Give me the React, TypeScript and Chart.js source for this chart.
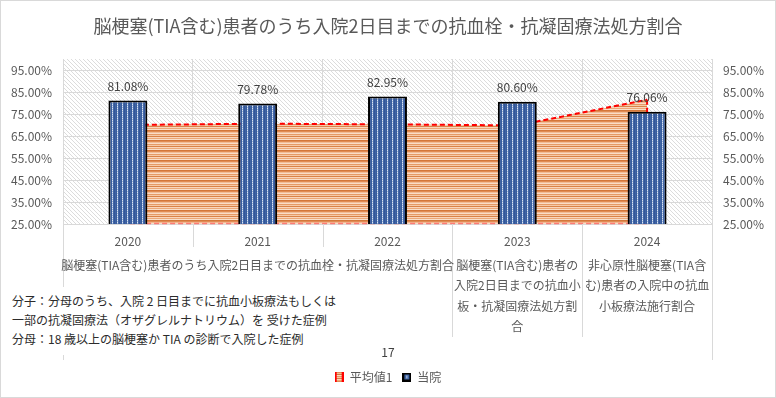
import React, { useEffect, useRef } from 'react';
import { Chart, registerables } from 'chart.js';

Chart.register(...registerables);

const FONT = '"Noto Sans CJK JP", "Noto Sans", sans-serif';

const categories = ['2020', '2021', '2022', '2023', '2024'];
const hospitalValues = [81.08, 79.78, 82.95, 80.6, 76.06];
const averageValues = [70.0, 70.6, 70.3, 69.8, 81.5];
const yTickValues = [25, 35, 45, 55, 65, 75, 85, 95];
const yMin = 25;
const yMax = 100;
const seriesNames = ['平均値1', '当院'];
const titleText = '脳梗塞(TIA含む)患者のうち入院2日目までの抗血栓・抗凝固療法処方割合';
const groupLabels = [
  ['脳梗塞(TIA含む)患者のうち入院2日目までの抗血栓・抗凝固療法処方割合'],
  ['脳梗塞(TIA含む)患者の', '入院2日目までの抗血小', '板・抗凝固療法処方割', '合'],
  ['非心原性脳梗塞(TIA含', 'む)患者の入院中の抗血', '小板療法施行割合'],
];
const groupSpans = [3, 1, 1];
const noteLines = [
  '分子：分母のうち、入院 2 日目までに抗血小板療法もしくは',
  '一部の抗凝固療法（オザグレルナトリウム）を 受けた症例',
  '分母：18 歳以上の脳梗塞か TIA の診断で入院した症例',
];
const pageNumber = '17';

function makeCanvas(w: number, h: number) {
  const c = document.createElement('canvas');
  c.width = w;
  c.height = h;
  return c;
}

function hatchPattern(ctx: CanvasRenderingContext2D) {
  const c = makeCanvas(4, 4);
  const g = c.getContext('2d')!;
  g.fillStyle = '#ffffff';
  g.fillRect(0, 0, 4, 4);
  g.fillStyle = '#dcdcdc';
  for (let i = 0; i < 4; i++) g.fillRect(i, i, 1, 1);
  return ctx.createPattern(c, 'repeat')!;
}

function stripePattern(ctx: CanvasRenderingContext2D) {
  const rows = ['#d4773a', '#e08c55', '#f2bc96', '#fadcc6', '#e59a66', '#f5caa9', '#da8248', '#f8d6bd', '#eca878', '#f9e0cc'];
  const c = makeCanvas(4, rows.length);
  const g = c.getContext('2d')!;
  rows.forEach((col, i) => {
    g.fillStyle = col;
    g.fillRect(0, i, 4, 1);
  });
  return ctx.createPattern(c, 'repeat')!;
}

function barPattern(ctx: CanvasRenderingContext2D) {
  const c = makeCanvas(5, 2);
  const g = c.getContext('2d')!;
  const cols = ['#3f64a3', '#395d9e', null, '#4569a8', '#33569a'];
  cols.forEach((col, i) => {
    if (col) {
      g.fillStyle = col;
      g.fillRect(i, 0, 1, 2);
    } else {
      g.fillStyle = '#dce5f3';
      g.fillRect(i, 0, 1, 1);
      g.fillStyle = '#93acd4';
      g.fillRect(i, 1, 1, 1);
    }
  });
  return ctx.createPattern(c, 'repeat')!;
}

function areaIcon() {
  const c = makeCanvas(9, 10);
  const g = c.getContext('2d')!;
  const rows = ['#e08c55', '#f2bc96', '#d4773a', '#fadcc6', '#e59a66', '#f5caa9', '#da8248', '#f8d6bd', '#eca878', '#e08c55'];
  rows.forEach((col, i) => {
    g.fillStyle = col;
    g.fillRect(0, i, 9, 1);
  });
  g.fillStyle = '#ff0000';
  g.fillRect(0, 0, 2, 10);
  g.fillRect(7, 0, 2, 10);
  return c;
}

function barIcon() {
  const c = makeCanvas(9, 9);
  const g = c.getContext('2d')!;
  g.fillStyle = '#000000';
  g.fillRect(0, 0, 9, 9);
  g.fillStyle = '#3f64a3';
  g.fillRect(2, 2, 5, 5);
  g.fillStyle = '#c8d4ea';
  g.fillRect(4, 3, 1, 3);
  return c;
}

export default function App() {
  const ref = useRef<HTMLCanvasElement | null>(null);

  useEffect(() => {
    const canvas = ref.current!;
    const ctx = canvas.getContext('2d')!;
    const hatch = hatchPattern(ctx);
    const stripes = stripePattern(ctx);
    const bars = barPattern(ctx);
    const icons = [areaIcon(), barIcon()];

    const backgroundPlugin = {
      id: 'bgPlugin',
      beforeDraw(chart: any) {
        const c = chart.ctx;
        const a = chart.chartArea;
        c.save();
        c.fillStyle = '#ffffff';
        c.fillRect(0, 0, chart.width, chart.height);
        c.fillStyle = hatch;
        c.fillRect(a.left, a.top, a.right - a.left, a.bottom - a.top);
        c.restore();
      },
    };

    const areaOutlinePlugin = {
      id: 'areaOutline',
      afterDatasetDraw(chart: any, args: any) {
        if (args.index !== 0) return;
        const pts = args.meta.data;
        if (!pts.length) return;
        const c = chart.ctx;
        const bottom = chart.scales.y.getPixelForValue(yMin);
        const first = pts[0];
        const last = pts[pts.length - 1];
        c.save();
        c.setLineDash([5, 3]);
        c.lineWidth = 2;
        c.strokeStyle = '#ff0000';
        c.beginPath();
        c.moveTo(last.x, last.y);
        c.lineTo(last.x, bottom);
        c.stroke();
        c.beginPath();
        c.moveTo(first.x, bottom);
        c.lineTo(first.x, first.y);
        c.stroke();
        c.strokeStyle = 'rgba(255,80,80,0.7)';
        c.lineWidth = 1.5;
        c.beginPath();
        c.moveTo(last.x, bottom - 0.5);
        c.lineTo(first.x, bottom - 0.5);
        c.stroke();
        c.restore();
      },
    };

    const dataLabelPlugin = {
      id: 'dataLabels',
      afterDatasetsDraw(chart: any) {
        const meta = chart.getDatasetMeta(1);
        const c = chart.ctx;
        c.save();
        c.font = `12px ${FONT}`;
        c.fillStyle = '#404040';
        c.textAlign = 'center';
        c.textBaseline = 'middle';
        meta.data.forEach((bar: any, i: number) => {
          c.fillText(`${hospitalValues[i].toFixed(2)}%`, bar.x, bar.y - 14);
        });
        c.restore();
      },
    };

    const groupLabelPlugin = {
      id: 'groupLabels',
      afterDraw(chart: any) {
        const c = chart.ctx;
        const a = chart.chartArea;
        const step = (a.right - a.left) / categories.length;
        const groupBounds = new Set<number>();
        let acc = 0;
        groupSpans.forEach((s) => {
          acc += s;
          groupBounds.add(acc);
        });
        c.save();
        c.strokeStyle = '#d9d9d9';
        c.lineWidth = 1;
        for (let i = 0; i <= categories.length; i++) {
          const px = Math.round(a.left + i * step) + 0.5;
          let end = a.bottom + 23;
          if (i === 0 || i === categories.length) end = a.bottom + 136;
          else if (groupBounds.has(i)) end = a.bottom + 113;
          c.beginPath();
          c.moveTo(px, a.bottom);
          c.lineTo(px, end);
          c.stroke();
        }
        c.font = `12px ${FONT}`;
        c.fillStyle = '#595959';
        c.textAlign = 'center';
        c.textBaseline = 'middle';
        let start = 0;
        groupSpans.forEach((s, gi) => {
          const cx = a.left + (start + s / 2) * step;
          groupLabels[gi].forEach((line, li) => {
            c.fillText(line, cx, a.bottom + 41 + li * 20.5);
          });
          start += s;
        });
        c.strokeStyle = '#d9d9d9';
        c.strokeRect(0.5, 0.5, chart.width - 1, chart.height - 1);
        c.restore();
      },
    };

    const setTicks = (scale: any) => {
      scale.ticks = yTickValues.map((v) => ({ value: v }));
    };
    const tickLabel = (v: any) => `${Number(v).toFixed(2)}%`;

    const chart = new Chart(canvas, {
      type: 'bar',
      data: {
        labels: categories,
        datasets: [
          {
            type: 'line',
            label: seriesNames[0],
            data: averageValues,
            order: 2,
            fill: 'start',
            backgroundColor: stripes,
            borderColor: '#ff0000',
            borderWidth: 2,
            borderDash: [5, 3],
            pointRadius: 0,
            tension: 0,
            yAxisID: 'y',
          } as any,
          {
            type: 'bar',
            label: seriesNames[1],
            data: hospitalValues,
            order: 1,
            backgroundColor: bars,
            borderColor: '#000000',
            borderWidth: 2,
            barPercentage: 0.3,
            categoryPercentage: 1,
            yAxisID: 'y',
          } as any,
        ],
      },
      options: {
        animation: false,
        responsive: false,
        devicePixelRatio: 1,
        layout: { padding: { top: 0, left: 0, right: 0, bottom: 5 } },
        plugins: {
          title: {
            display: true,
            text: titleText,
            color: '#595959',
            font: { family: FONT, size: 18, weight: 'normal' },
            padding: { top: 15, bottom: 22.4 },
          },
          legend: {
            position: 'bottom',
            labels: {
              usePointStyle: true,
              pointStyleWidth: 9,
              padding: 10,
              color: '#595959',
              font: { family: FONT, size: 12 },
              generateLabels: (ch: any) =>
                ch.data.datasets.map((ds: any, i: number) => ({
                  text: ds.label,
                  pointStyle: icons[i],
                  datasetIndex: i,
                  hidden: false,
                  lineWidth: 0,
                  fontColor: '#595959',
                })),
            },
          },
          tooltip: { enabled: false },
        },
        scales: {
          x: {
            type: 'category',
            offset: true,
            grid: { display: true, color: '#d9d9d9', offset: true, drawTicks: false },
            border: { display: false },
            ticks: { color: '#595959', font: { family: FONT, size: 12 }, padding: 10, maxRotation: 0 },
            afterFit: (s: any) => {
              s.height = 137;
            },
          },
          y: {
            type: 'linear',
            position: 'left',
            min: yMin,
            max: yMax,
            afterBuildTicks: setTicks,
            grid: { color: '#d9d9d9', drawTicks: false },
            border: { display: false },
            ticks: { color: '#595959', font: { family: FONT, size: 12 }, padding: 11, callback: tickLabel },
            afterFit: (s: any) => {
              s.width = 63;
            },
          },
          y1: {
            type: 'linear',
            position: 'right',
            min: yMin,
            max: yMax,
            afterBuildTicks: setTicks,
            grid: { display: false, drawTicks: false },
            border: { display: false },
            ticks: { color: '#595959', font: { family: FONT, size: 12 }, padding: 11, callback: tickLabel },
            afterFit: (s: any) => {
              s.width = 64;
            },
          },
        },
      } as any,
      plugins: [backgroundPlugin, areaOutlinePlugin, dataLabelPlugin, groupLabelPlugin],
    });

    return () => chart.destroy();
  }, []);

  return (
    <div style={{ position: 'fixed', left: 0, top: 0, width: 776, height: 398, background: '#fff' }}>
      <canvas ref={ref} width={776} height={398} style={{ display: 'block' }} />
      <div
        style={{
          position: 'absolute',
          left: 8,
          top: 287,
          width: 340,
          height: 68,
          background: '#ffffff',
          paddingTop: 3.5,
          paddingLeft: 4,
          boxSizing: 'border-box',
          fontFamily: FONT,
          fontSize: 12,
          lineHeight: '19px',
          color: '#2b2b2b',
          whiteSpace: 'nowrap',
        }}
      >
        {noteLines.map((l, i) => (
          <div key={i}>{l}</div>
        ))}
      </div>
      <div
        style={{
          position: 'absolute',
          left: 368,
          width: 40,
          top: 343,
          textAlign: 'center',
          fontFamily: FONT,
          fontSize: 12,
          lineHeight: '18px',
          color: '#404040',
        }}
      >
        {pageNumber}
      </div>
    </div>
  );
}
